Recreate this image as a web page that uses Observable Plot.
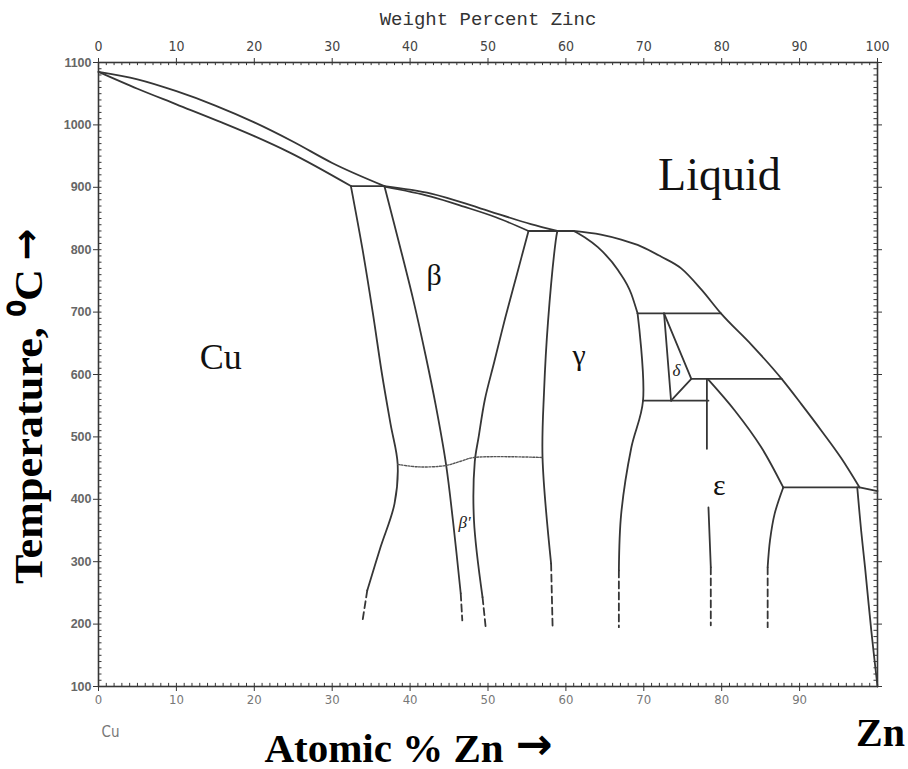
<!DOCTYPE html>
<html>
<head>
<meta charset="utf-8">
<script src="https://cdn.jsdelivr.net/npm/d3@7"></script>
<script src="https://cdn.jsdelivr.net/npm/@observablehq/plot@0.6"></script>
<style>
  html, body { margin: 0; padding: 0; background: #fff; }
  #chart svg { display: block; }
</style>
</head>
<body>
<div id="chart"></div>
<script>
// ---- tick values ----
const atomicTicks = [0, 10, 20, 30, 40, 50, 60, 70, 80, 90];
const weightTicks = [0, 10, 20, 30, 40, 50, 60, 70, 80, 90, 100];
const tempTicks = [100, 200, 300, 400, 500, 600, 700, 800, 900, 1000, 1100];

// ---- phase boundaries [atomic % Zn, temperature °C] ----
const alphaLiquidus = [[0,1085],[5,1073],[10,1054],[15,1031],[20,1004],[25,973],[30,939],[36.7,902]];
const alphaSolidus  = [[0,1085],[5,1058],[10,1033],[15.8,1004],[20,982],[24.5,956],[32.4,902]];
const alphaPeritectic = [[32.4,902],[36.7,902]];
const betaLiquidus = [[36.7,902],[42.7,890],[49.1,866],[55.5,841],[58.9,830]];
const betaSolidus  = [[36.7,901],[42.7,885],[46.9,869],[51,852],[55.2,830]];
const betaPeritectic = [[55.2,830],[61,830]];
const gammaSolidus = [[61,830],[62.4,820],[64.1,804],[66.7,767],[68.4,729],[69.2,698]];
const liquidusZn = [[61,830],[64.5,824],[67.1,816],[69.7,805],[72.2,789],[74.8,770],[77.4,736],[79.9,698],
  [83.8,648],[87.7,593],[90.2,553],[92.8,510],[95.4,465],[97.7,419]];
const gammaPeritectic = [[69.2,698],[79.9,698]];
const deltaLeft = [[72.6,698],[73.5,558]];
const deltaRight = [[72.6,698],[76.1,593],[73.5,558]];
const deltaPeritectic = [[76.1,593],[87.7,593]];
const eutectoid = [[69.9,558],[78.3,558]];
const epsPeritectic = [[87.9,419],[97.7,419],[100,413]];
const alphaBound = [[32.4,902],[33.9,800],[35.2,700],[36.4,600],[37.5,520],[38.4,457],[38.0,393],[36.2,323],[34.5,254]];
const alphaBoundLow = [[34.5,254],[33.9,206]];
const betaLeft = [[36.7,902],[38.6,810],[40.4,720],[42.0,630],[43.3,550],[44.6,457],[45.5,366],[46.5,249]];
const betaLeftLow = [[46.5,249],[46.7,206]];
const betaRight = [[55.2,830],[53.7,760],[52.2,690],[50.8,620],[49.6,560],[48.8,500],[48.3,460],[48.2,366],[49.3,243]];
const betaRightLow = [[49.3,243],[49.7,195]];
const gammaLeft = [[58.9,830],[58.7,815],[57.7,684],[57.2,574],[57.0,467],[58.1,297]];
const gammaLeftLow = [[58.1,297],[58.3,192]];
const gammaRight = [[69.2,698],[69.9,558],[68.4,483],[67.1,377],[66.8,286]];
const gammaRightLow = [[66.8,286],[66.8,195]];
const epsLeftUpper = [[78.1,593],[78.1,481]];
const epsLeftMid = [[78.3,387],[78.6,291]];
const epsLeftLow = [[78.6,291],[78.6,198]];
const epsRightUpper = [[78.2,593],[81.7,542],[85.1,483],[87.9,419]];
const epsRightLower = [[87.9,419],[86.8,377],[86.2,334],[85.9,291]];
const epsRightLow = [[85.9,291],[85.9,195]];
const etaBound = [[97.4,419],[97.9,350],[98.4,291],[99.2,190],[100,100]];
const orderLine = [[38.4,456],[41,452],[44.5,454],[46.5,461],[48.2,467],[57,467]];

// ---- region labels ----
const regionNames = ["Liquid", "Cu", "β", "γ", "ε"];
const regionA = [79.7, 15.7, 43.1, 61.7, 79.7];
const regionT = [919, 627, 759, 631, 423];
const smallNames = ["δ", "β'"];
const smallA = [74.2, 47.0];
const smallT = [606, 363];

const solid = [alphaLiquidus, alphaSolidus, alphaPeritectic, betaLiquidus, betaSolidus, betaPeritectic,
  gammaSolidus, liquidusZn, gammaPeritectic, deltaLeft, deltaRight, deltaPeritectic, eutectoid,
  epsPeritectic, alphaBound, betaLeft, betaRight, gammaLeft, gammaRight, epsLeftUpper, epsLeftMid,
  epsRightUpper, epsRightLower, etaBound];
const straight = new Set([alphaPeritectic, betaPeritectic, gammaPeritectic, deltaLeft, deltaRight,
  deltaPeritectic, eutectoid, epsPeritectic, epsLeftUpper, epsLeftMid]);
const monotone = new Set([liquidusZn, alphaLiquidus, alphaSolidus, betaLiquidus, betaSolidus, gammaSolidus]);
const dashed = [alphaBoundLow, betaLeftLow, betaRightLow, gammaLeftLow, gammaRightLow, epsLeftLow, epsRightLow];

const LINE = "#363636";
const serif = "'Liberation Serif', 'Times New Roman', serif";
const narrow = "'Liberation Sans Narrow', 'DejaVu Sans Condensed', 'Liberation Sans', sans-serif";
const mono = "'Liberation Mono', 'DejaVu Sans Mono', monospace";
const arrowFont = "'DejaVu Sans', sans-serif";

const marks = [];
// minor ticks
marks.push(Plot.ruleX(d3.range(0, 101, 1), {y1: 100, y2: 105, stroke: LINE, strokeWidth: 1}));
marks.push(Plot.ruleX(d3.range(0, 101, 1), {y1: 1100, y2: 1095, stroke: LINE, strokeWidth: 1}));
marks.push(Plot.ruleY(d3.range(100, 1101, 10), {x1: 0, x2: 0.45, stroke: LINE, strokeWidth: 1}));
marks.push(Plot.ruleY(d3.range(100, 1101, 10), {x1: 100, x2: 99.55, stroke: LINE, strokeWidth: 1}));
marks.push(Plot.frame({stroke: LINE, strokeWidth: 1.6}));

// axes
marks.push(Plot.axisX({anchor: "bottom", ticks: atomicTicks, tickSize: 5, tickPadding: 3,
  tickFormat: d => String(d), fontSize: 13, fontFamily: narrow, fill: "#777", stroke: LINE, label: null}));
marks.push(Plot.axisX({anchor: "top", ticks: weightTicks, tickSize: 5, tickPadding: 7,
  tickFormat: d => String(d), fontSize: 14, fontFamily: narrow, fill: "#444", stroke: LINE, label: null}));
marks.push(Plot.axisY({anchor: "left", ticks: tempTicks, tickSize: 5, tickPadding: 2,
  tickFormat: d => String(d), fontSize: 12.5, fontWeight: "bold", fontFamily: "'Liberation Sans', Arial, sans-serif",
  fill: "#666", stroke: LINE, label: null}));
marks.push(Plot.axisY({anchor: "right", ticks: tempTicks, tickSize: 4, tickFormat: () => "", stroke: LINE, label: null}));

// phase boundaries
for (const seg of solid) {
  marks.push(Plot.line(seg, {x: d => d[0], y: d => d[1], stroke: LINE, strokeWidth: 1.8,
    curve: straight.has(seg) ? "linear" : monotone.has(seg) ? "monotone-x" : "catmull-rom"}));
}
for (const seg of dashed) {
  marks.push(Plot.line(seg, {x: d => d[0], y: d => d[1], stroke: LINE, strokeWidth: 1.8, strokeDasharray: "7,4"}));
}
marks.push(Plot.line(orderLine, {x: d => d[0], y: d => d[1], stroke: "#555", strokeWidth: 1.4,
  strokeDasharray: "2,1.5", curve: "catmull-rom"}));

// region labels
marks.push(Plot.text(regionNames, {x: (d, i) => regionA[i], y: (d, i) => regionT[i], text: d => d,
  fontFamily: serif, fontSize: (d) => d === "Liquid" ? 46 : d === "Cu" ? 36 : 30, fill: "#111"}));
marks.push(Plot.text(smallNames, {x: (d, i) => smallA[i], y: (d, i) => smallT[i], text: d => d,
  fontFamily: serif, fontStyle: "italic", fontSize: 17, fill: "#222"}));

// titles
marks.push(Plot.text(["Weight Percent Zinc"], {frameAnchor: "top", dy: -44, lineAnchor: "middle",
  fontFamily: mono, fontSize: 19, fill: "#333"}));
marks.push(Plot.text(["Cu"], {frameAnchor: "bottom-left", dx: 12, dy: 46, textAnchor: "middle",
  lineAnchor: "middle", fontFamily: narrow, fontSize: 15, fill: "#777"}));
marks.push(Plot.text(["Atomic % Zn"], {frameAnchor: "bottom", dx: -104, dy: 62, textAnchor: "middle",
  lineAnchor: "middle", fontFamily: serif, fontWeight: "bold", fontSize: 41, fill: "#000"}));
marks.push(Plot.text(["→"], {frameAnchor: "bottom", dx: 46, dy: 58, textAnchor: "middle",
  lineAnchor: "middle", fontFamily: arrowFont, fontWeight: "bold", fontSize: 44, fill: "#000"}));
marks.push(Plot.text(["Zn"], {frameAnchor: "bottom-right", dx: 3, dy: 47, textAnchor: "middle",
  lineAnchor: "middle", fontFamily: serif, fontWeight: "bold", fontSize: 40, fill: "#000"}));
marks.push(Plot.text(["Temperature, ⁰C"], {frameAnchor: "left", dx: -70, dy: 52, rotate: -90,
  textAnchor: "middle", lineAnchor: "middle", fontFamily: serif, fontWeight: "bold", fontSize: 41, fill: "#000"}));
marks.push(Plot.text(["→"], {frameAnchor: "left", dx: -72, dy: -130, rotate: -90,
  textAnchor: "middle", lineAnchor: "middle", fontFamily: arrowFont, fontWeight: "bold", fontSize: 38, fill: "#000"}));

const chart = Plot.plot({
  width: 908,
  height: 769,
  marginLeft: 98,
  marginRight: 31,
  marginTop: 62,
  marginBottom: 83,
  x: {domain: [0, 100]},
  y: {domain: [100, 1100]},
  style: {background: "#fff", overflow: "visible"},
  marks
});
// stretch the rotated axis title to the reference's length
for (const t of chart.querySelectorAll("text")) {
  if (t.textContent === "Temperature, ⁰C") {
    t.setAttribute("textLength", 315);
    t.setAttribute("lengthAdjust", "spacingAndGlyphs");
  }
}
document.getElementById("chart").append(chart);
</script>
</body>
</html>
